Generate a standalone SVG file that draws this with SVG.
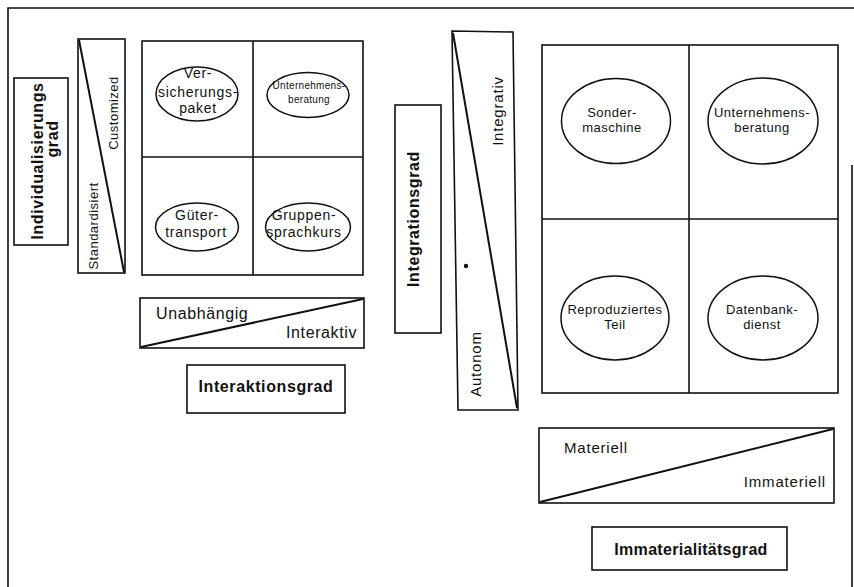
<svg xmlns="http://www.w3.org/2000/svg" width="854" height="587" viewBox="0 0 854 587">
<style>
.ln{fill:none;stroke:#111;stroke-width:1.6}
.dg{fill:none;stroke:#111;stroke-width:2}
.el{fill:#fff;stroke:#111;stroke-width:1.5}
text{font-family:"Liberation Sans",Arial,sans-serif;fill:#111}
.b{font-weight:bold;font-size:16px;letter-spacing:0.6px}
.ax{font-size:15px;letter-spacing:0.8px}
.ax16{font-size:16px;letter-spacing:0.6px}
.s13{font-size:13px;letter-spacing:0.5px}
.s14{font-size:14px;letter-spacing:0.7px}
.s10{font-size:10px;letter-spacing:0.3px}
.m{text-anchor:middle}
.e{text-anchor:end}
</style>
<rect width="854" height="587" fill="#fff"/>
<g id="frame">
<path class="ln" d="M8,587 V8 H854 M852,165 V587" stroke-width="2"/>
</g>
<g id="individualisierungsgrad">
<rect class="ln" x="14" y="78" width="54" height="167"/>
<text class="b m" x="43" y="161" transform="rotate(-90 43 161)">Individualisierungs</text>
<text class="b m" x="58" y="139" transform="rotate(-90 58 139)">grad</text>
</g>
<g id="scale-individualisierung">
<rect class="ln" x="78" y="39" width="47" height="234"/>
<text class="s13 m" x="98" y="226" transform="rotate(-90 98 226)">Standardisiert</text>
<text class="s13 m" x="118" y="113" transform="rotate(-90 118 113)">Customized</text>
</g>
<g id="matrix-left">
<rect class="ln" x="142" y="41" width="221" height="234"/>
<line class="ln" x1="253" y1="41" x2="253" y2="275"/>
<line class="ln" x1="142" y1="157" x2="363" y2="157"/>
</g>
<g id="versicherungspaket">
<ellipse class="el" cx="197" cy="94" rx="41" ry="27"/>
<text class="s14 m" x="198" y="78">Ver-</text>
<text class="s14 m" x="198" y="97">sicherungs-</text>
<text class="s14 m" x="198" y="113">paket</text>
</g>
<g id="unternehmensberatung-left">
<ellipse class="el" cx="308" cy="95" rx="41" ry="22.5"/>
<text class="s10 m" x="309" y="89">Unternehmens-</text>
<text class="s10 m" x="309" y="103">beratung</text>
</g>
<g id="guetertransport">
<ellipse class="el" cx="197" cy="227" rx="41.5" ry="24"/>
<text class="s14 m" x="197" y="220">Güter-</text>
<text class="s14 m" x="196" y="237">transport</text>
</g>
<g id="gruppensprachkurs">
<ellipse class="el" cx="308" cy="227" rx="42.5" ry="24"/>
<text class="s14 m" x="304" y="220">Gruppen-</text>
<text class="s14 m" x="304" y="237">sprachkurs</text>
</g>
<g id="scale-interaktion">
<rect class="ln" x="140" y="298" width="224" height="50"/>
<text class="ax16" x="156" y="319">Unabhängig</text>
<text class="ax16 e" x="357" y="338">Interaktiv</text>
</g>
<g id="interaktionsgrad">
<rect class="ln" x="187" y="365" width="158" height="48"/>
<text class="b m" x="266" y="392">Interaktionsgrad</text>
</g>
<g id="integrationsgrad">
<rect class="ln" x="395" y="105" width="46" height="228"/>
<text class="b m" x="419" y="219" transform="rotate(-90 419 219)">Integrationsgrad</text>
</g>
<g id="scale-integration">
<polygon class="ln" points="452,31 513,32 518,410 458,410"/>
<circle cx="466" cy="266" r="2.2" fill="#111"/>
<text class="ax m" x="503" y="111" transform="rotate(-90 503 111)">Integrativ</text>
<text class="ax m" x="481" y="364" transform="rotate(-90 481 364)">Autonom</text>
</g>
<g id="matrix-right">
<rect class="ln" x="542" y="45" width="296" height="348"/>
<line class="ln" x1="689" y1="45" x2="689" y2="393"/>
<line class="ln" x1="542" y1="219" x2="838" y2="219"/>
</g>
<g id="sondermaschine">
<ellipse class="el" cx="616" cy="121" rx="54.5" ry="42.5"/>
<text class="s13 m" x="612" y="117">Sonder-</text>
<text class="s13 m" x="612" y="132">maschine</text>
</g>
<g id="unternehmensberatung-right">
<ellipse class="el" cx="763" cy="121" rx="55" ry="43"/>
<text class="s13 m" x="762" y="117">Unternehmens-</text>
<text class="s13 m" x="762" y="132">beratung</text>
</g>
<g id="reproduziertes-teil">
<ellipse class="el" cx="615" cy="318" rx="54" ry="42"/>
<text class="s13 m" x="615" y="314">Reproduziertes</text>
<text class="s13 m" x="615" y="329">Teil</text>
</g>
<g id="datenbankdienst">
<ellipse class="el" cx="763" cy="318" rx="55" ry="42"/>
<text class="s13 m" x="762" y="314">Datenbank-</text>
<text class="s13 m" x="762" y="329">dienst</text>
</g>
<g id="scale-immaterialitaet">
<rect class="ln" x="539" y="428" width="295" height="75"/>
<text class="ax" x="564" y="453">Materiell</text>
<text class="ax e" x="826" y="487">Immateriell</text>
</g>
<g id="immaterialitaetsgrad">
<rect class="ln" x="592" y="527" width="195" height="43"/>
<text class="b m" x="691" y="555" style="letter-spacing:0.3px">Immaterialitätsgrad</text>
</g>
<g id="connectors">
<line class="dg" x1="79" y1="40" x2="124" y2="272"/>
<line class="dg" x1="141" y1="347" x2="363" y2="299"/>
<line class="dg" x1="453" y1="33" x2="517" y2="408"/>
<line class="dg" x1="540" y1="502" x2="833" y2="429"/>
</g>
</svg>
